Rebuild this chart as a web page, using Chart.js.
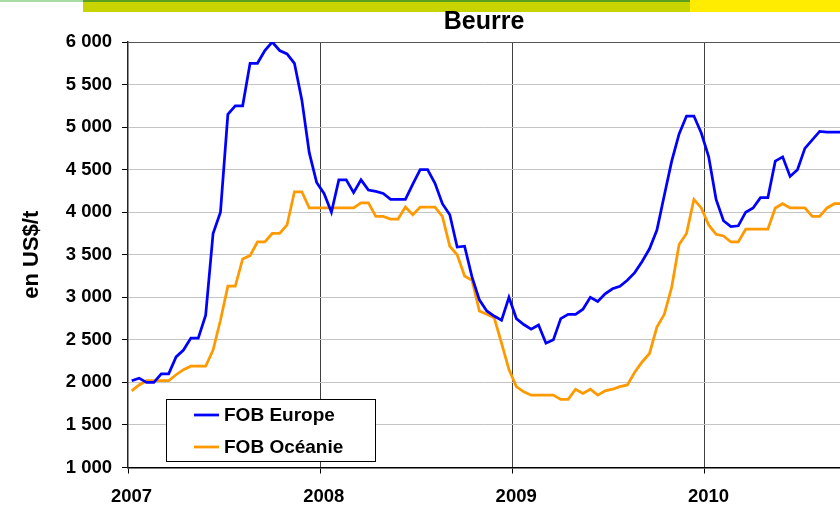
<!DOCTYPE html>
<html>
<head>
<meta charset="utf-8">
<script src="https://cdn.jsdelivr.net/npm/chart.js@4.4.0/dist/chart.umd.min.js"></script>
<style>
  html, body { margin: 0; padding: 0; background: #ffffff; overflow: hidden; }
  #wrap { position: relative; width: 840px; height: 510px; }
</style>
</head>
<body>
<div id="wrap"><canvas id="c"></canvas></div>
<script>
// ---------- data ----------
const chartTitle = 'Beurre';
const yAxisTitle = 'en US$/t';
const years = ['2007', '2008', '2009', '2010'];
const periodsPerYear = 26;          // biweekly quotations
const seriesNames = ['FOB Europe', 'FOB Océanie'];
const yTicks = [1000, 1500, 2000, 2500, 3000, 3500, 4000, 4500, 5000, 5500, 6000];

const fobEurope = [
  2020, 2050, 2000, 2000, 2100, 2100, 2300, 2380, 2520, 2520,
  2790, 3750, 4000, 5150, 5250, 5250, 5750, 5750, 5900, 6000,
  5900, 5860, 5750, 5320, 4700, 4350, 4220, 4000, 4380, 4380,
  4230, 4380, 4260, 4245, 4220, 4150, 4150, 4150, 4330, 4500,
  4500, 4340, 4100, 3970, 3590, 3600, 3240, 2970, 2840, 2780,
  2730, 3000, 2750, 2680, 2625, 2675, 2460, 2500, 2750, 2800,
  2800, 2860, 3000, 2950, 3040, 3100, 3130, 3200, 3290, 3420,
  3570, 3790, 4200, 4600, 4920, 5130, 5130, 4930, 4650, 4150,
  3900, 3830, 3840, 4000, 4050, 4170, 4170, 4600, 4650, 4420,
  4500, 4750, 4850, 4950, 4940, 4940, 4940
];
const fobOceanie = [
  1900, 1970, 2020, 2020, 2020, 2020, 2090, 2150, 2190, 2190,
  2190, 2380, 2730, 3130, 3130, 3450, 3490, 3650, 3650, 3750,
  3750, 3850, 4240, 4240, 4050, 4050, 4050, 4050, 4050, 4050,
  4050, 4110, 4110, 3950, 3950, 3920, 3920, 4060, 3970, 4060,
  4060, 4060, 3950, 3600, 3500, 3250, 3200, 2840, 2800, 2760,
  2460, 2150, 1950, 1890, 1850, 1850, 1850, 1850, 1800, 1800,
  1920, 1870, 1920, 1850, 1900, 1920, 1950, 1970, 2120, 2240,
  2340, 2650, 2800, 3120, 3620, 3750, 4150, 4050, 3850, 3740,
  3720, 3650, 3650, 3800, 3800, 3800, 3800, 4050, 4100, 4050,
  4050, 4050, 3950, 3950, 4050, 4100, 4100
];

// ---------- helpers ----------
const FONT = 'Arial, "Liberation Sans", Helvetica, sans-serif';
const toPoints = arr => arr.map((v, i) => ({ x: i + 0.5, y: v }));   // value sits mid-period
const fmt = v => String(v).replace(/\B(?=(\d{3})+(?!\d))/g, ' ');

const banner = {
  id: 'banner',
  beforeDraw(chart) {
    const ctx = chart.ctx;
    ctx.save();
    ctx.fillStyle = '#a9dca4'; ctx.fillRect(0, 0, 83, 2);
    ctx.fillStyle = '#c8d400'; ctx.fillRect(83, 0, 607, 12);
    ctx.fillStyle = '#5a9e22'; ctx.fillRect(83, 0, 607, 2);
    ctx.fillStyle = '#ffec00'; ctx.fillRect(690, 0, 150, 12);
    ctx.restore();
  }
};

const boxLegend = {
  id: 'boxLegend',
  afterDraw(chart) {
    const ctx = chart.ctx;
    ctx.save();
    ctx.fillStyle = '#ffffff';
    ctx.fillRect(166.5, 399.5, 209, 62);
    ctx.strokeStyle = '#000000';
    ctx.lineWidth = 1;
    ctx.strokeRect(166.5, 399.5, 209, 62);
    ctx.font = 'bold 19px ' + FONT;
    ctx.textBaseline = 'middle';
    chart.data.datasets.forEach((ds, k) => {
      const y = 415 + k * 32;
      ctx.strokeStyle = ds.borderColor;
      ctx.lineWidth = ds.borderWidth;
      ctx.beginPath(); ctx.moveTo(194, y); ctx.lineTo(219, y); ctx.stroke();
      ctx.fillStyle = '#000000';
      ctx.fillText(ds.label, 224, y + 1);
    });
    ctx.restore();
  }
};

new Chart(document.getElementById('c'), {
  type: 'line',
  data: {
    datasets: [
      { label: seriesNames[0], data: toPoints(fobEurope), borderColor: '#0000ff', backgroundColor: '#0000ff',
        borderWidth: 2.75, pointRadius: 0, tension: 0, fill: false },
      { label: seriesNames[1], data: toPoints(fobOceanie), borderColor: '#ff9900', backgroundColor: '#ff9900',
        borderWidth: 2.75, pointRadius: 0, tension: 0, fill: false }
    ]
  },
  options: {
    responsive: true,
    maintainAspectRatio: false,
    animation: false,
    devicePixelRatio: 1,
    layout: { padding: 0 },
    plugins: {
      legend: { display: false },
      tooltip: { enabled: false },
      title: {
        display: true, text: chartTitle, fullSize: false, color: '#000',
        font: { family: FONT, size: 25, weight: 'bold' },
        padding: { top: 7.5, bottom: 4.5 }
      }
    },
    scales: {
      x: {
        type: 'linear',
        min: 0,
        max: 96.25,
        afterFit(scale) { scale.height = 42.5; },
        afterBuildTicks(scale) { scale.ticks = years.map((y, k) => ({ value: k * periodsPerYear })); },
        ticks: {
          callback: (v, i) => years[i],
          color: '#000', font: { family: FONT, size: 18.5, weight: 'bold' },
          padding: 12.5, labelOffset: 3.5, maxRotation: 0, autoSkip: false
        },
        grid: {
          color: ctx => (ctx.tick && ctx.tick.value === 0) ? 'rgba(0,0,0,0)' : '#404040',
          lineWidth: 1, tickColor: '#000', tickLength: 6, drawTicks: true
        },
        border: { display: true, color: '#000', width: 1.5 }
      },
      y: {
        type: 'linear',
        min: 1000,
        max: 6000,
        afterFit(scale) { scale.width = 128; },
        afterBuildTicks(scale) { scale.ticks = yTicks.map(v => ({ value: v })); },
        ticks: {
          callback: v => fmt(v),
          color: '#000', font: { family: FONT, size: 18.5, weight: 'bold' },
          padding: 10
        },
        grid: {
          color: ctx => (ctx.tick && ctx.tick.value === 6000) ? '#555555' : '#c4c4c4',
          lineWidth: 1, tickColor: '#000', tickLength: 6
        },
        border: { display: true, color: '#222', width: 1.5 },
        title: {
          display: true, text: yAxisTitle, color: '#000',
          font: { family: FONT, size: 22, weight: 'bold' },
          padding: { top: 18.5, bottom: 0 }
        }
      }
    }
  },
  plugins: [banner, boxLegend]
});
</script>
</body>
</html>
